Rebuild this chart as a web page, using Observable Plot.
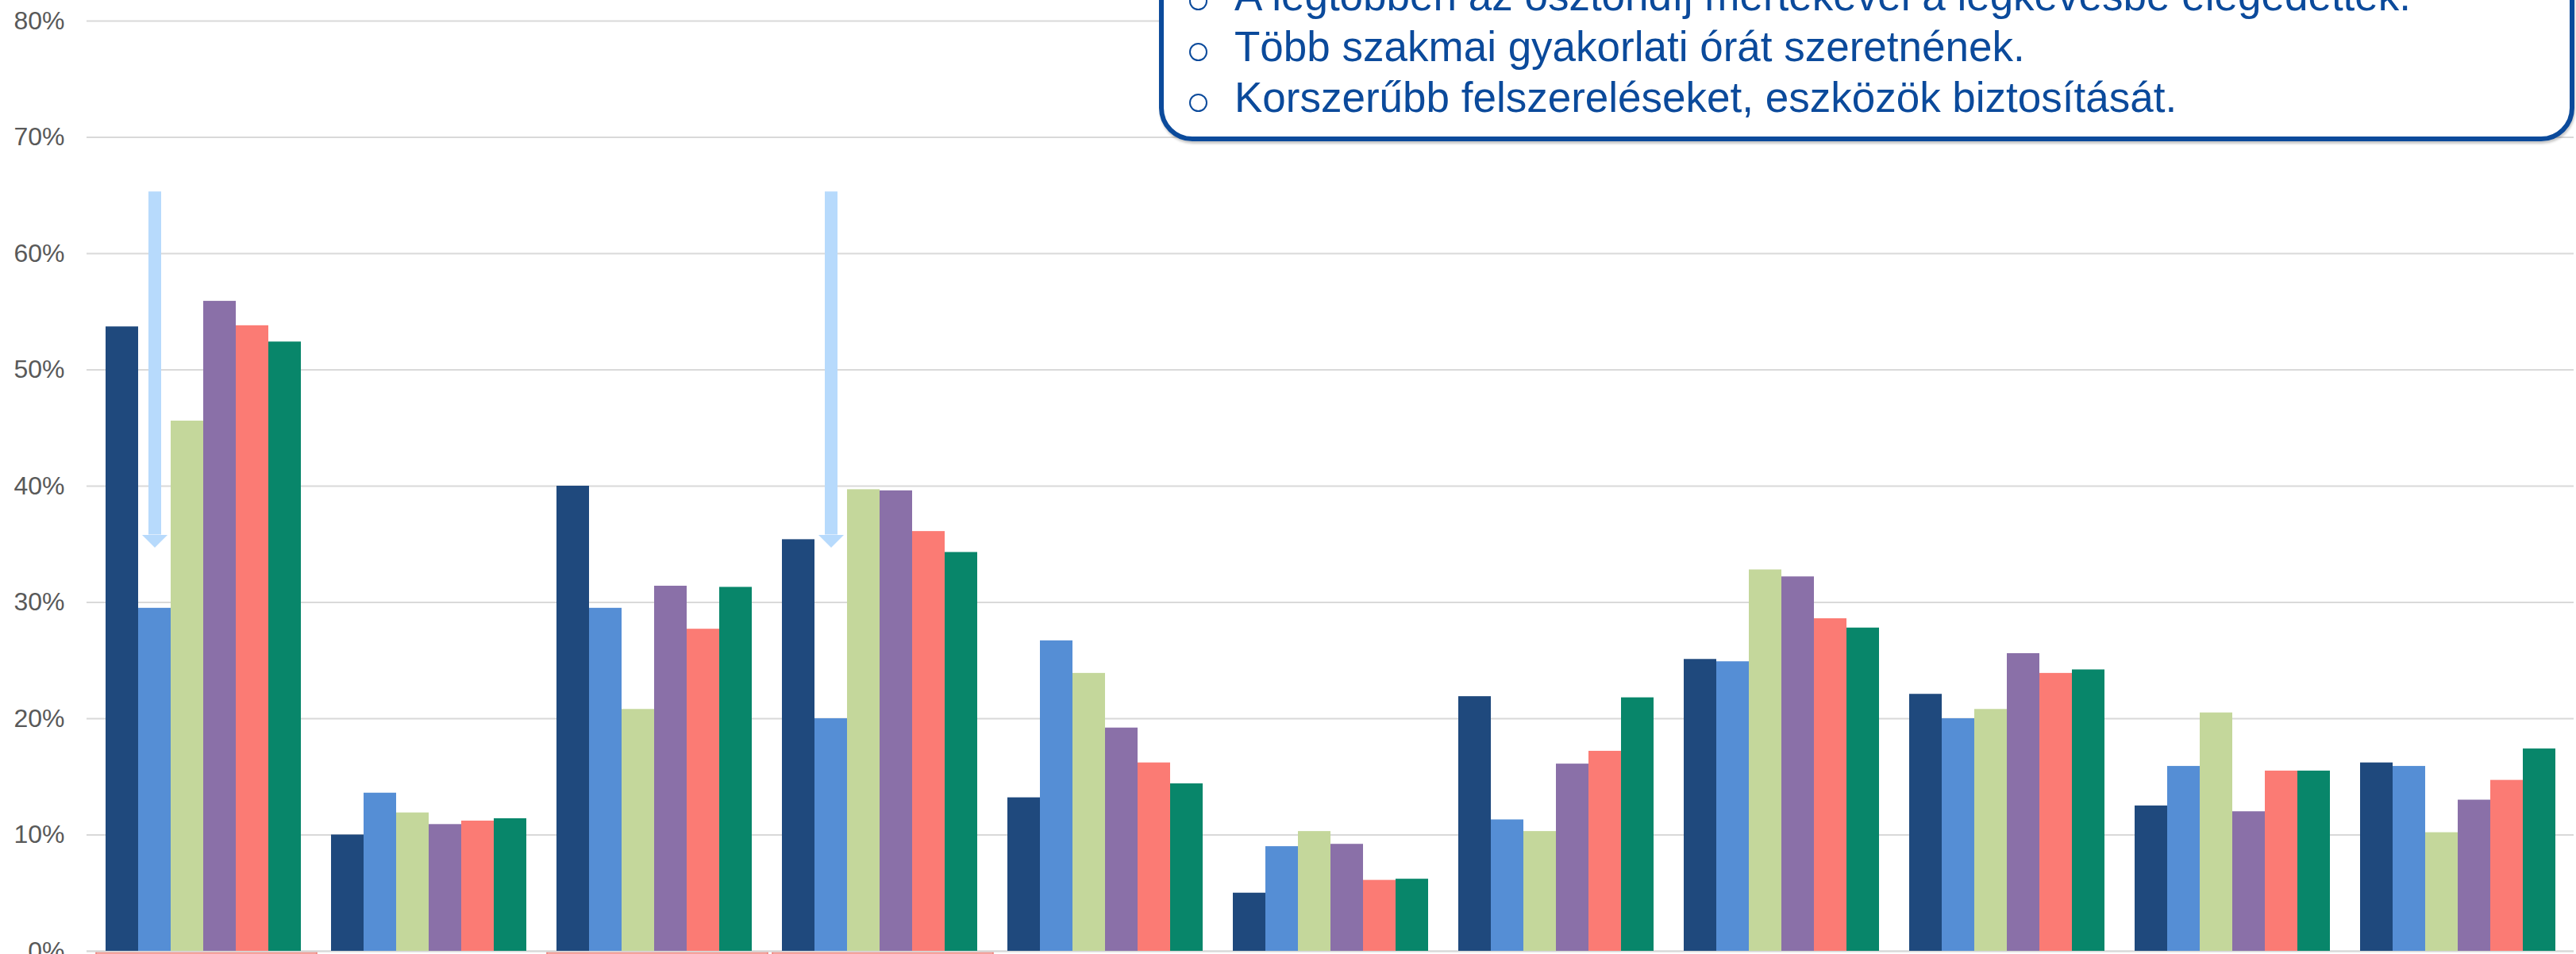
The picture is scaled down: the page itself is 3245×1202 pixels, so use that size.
<!DOCTYPE html>
<html>
<head>
<meta charset="utf-8">
<script src="https://cdn.jsdelivr.net/npm/d3@7"></script>
<script src="https://cdn.jsdelivr.net/npm/@observablehq/plot@0.6"></script>
<style>
  html, body { margin: 0; padding: 0; background: #fff; overflow: hidden; }
  #page { position: relative; width: 3245px; height: 1202px; overflow: hidden; background: #fff; }
  #page svg { position: absolute; left: 0; top: 0; max-width: none !important; }
  #callout {
    position: absolute; left: 1460px; top: -80px; width: 1783px; height: 258px;
    box-sizing: border-box; border: 6px solid #0b4a9b; border-radius: 42px;
    background: #fff; box-shadow: 1px 3px 3px rgba(0,0,0,0.22);
  }
  #lines { position: absolute; left: 1555px; top: -37.5px; }
  .line {
    position: relative; height: 64px; line-height: 64px; white-space: nowrap;
    font-family: "Liberation Sans", Arial, sans-serif; font-size: 53px; color: #0b4a9b;
  }
  .bullet {
    position: absolute; left: -57.5px; top: 27.5px; width: 23px; height: 23px;
    box-sizing: border-box; border: 2px solid #0b4a9b; border-radius: 50%;
  }
</style>
</head>
<body>
<div id="page"></div>
<script>
// ---- data ----
const categories = ["1", "2", "3", "4", "5", "6", "7", "8", "9", "10", "11"];
const series = ["Sorozat 1", "Sorozat 2", "Sorozat 3", "Sorozat 4", "Sorozat 5", "Sorozat 6"];
const colors = ["#1f497d", "#558ed5", "#c4d79b", "#8a70a8", "#fb7b74", "#08866a"];
const s1 = [0.537, 0.100, 0.400, 0.354, 0.132, 0.050, 0.219, 0.251, 0.221, 0.125, 0.162];
const s2 = [0.295, 0.136, 0.295, 0.200, 0.267, 0.090, 0.113, 0.249, 0.200, 0.159, 0.159];
const s3 = [0.456, 0.119, 0.208, 0.397, 0.239, 0.103, 0.103, 0.328, 0.208, 0.205, 0.102];
const s4 = [0.559, 0.109, 0.314, 0.396, 0.192, 0.092, 0.161, 0.322, 0.256, 0.120, 0.130];
const s5 = [0.538, 0.112, 0.277, 0.361, 0.162, 0.061, 0.172, 0.286, 0.239, 0.155, 0.147];
const s6 = [0.524, 0.114, 0.313, 0.343, 0.144, 0.062, 0.218, 0.278, 0.242, 0.155, 0.174];
const seriesValues = [s1, s2, s3, s4, s5, s6];
const yTicks = [0, 0.1, 0.2, 0.3, 0.4, 0.5, 0.6, 0.7, 0.8];
const highlighted = ["1", "3", "4"];
const arrows = [
  {cat: "1", series: "Sorozat 2", from: 0.653, to: 0.358},
  {cat: "4", series: "Sorozat 2", from: 0.653, to: 0.358}
];
const calloutLines = [
  "A legtöbben az ösztöndíj mértékével a legkevésbé elégedettek.",
  "Több szakmai gyakorlati órát szeretnének.",
  "Korszerűbb felszereléseket, eszközök biztosítását."
];

const data = [];
categories.forEach((c, i) => series.forEach((s, j) => data.push({cat: c, series: s, value: seriesValues[j][i]})));

const W = 3245, H = 1300;
const common = {
  width: W, height: H, marginTop: 26, marginBottom: 102, marginLeft: 109, marginRight: 3,
  style: {background: "transparent", fontFamily: "'Liberation Sans', Arial, sans-serif", fontSize: "32px", color: "#595959", overflow: "visible"}
};

// base: grid, y axis, highlight boxes under categories, baseline
const base = Plot.plot({
  ...common,
  x: {domain: categories, paddingInner: 0.12, paddingOuter: 0.06, axis: null},
  y: {domain: [0, 0.8], axis: null},
  marks: [
    Plot.ruleY(yTicks.filter(d => d > 0), {stroke: "#d9d9d9", strokeWidth: 2}),
    Plot.axisY(yTicks, {tickSize: 0, tickPadding: 28, tickFormat: d3.format(".0%"), fontSize: 32, fill: "#595959", label: null}),
    Plot.barY(highlighted, {x: d => d, y1: 0, y2: 0, insetTop: 1, insetBottom: -40, insetLeft: -10, insetRight: -18, fill: "#f5a29c", stroke: "#ee7c75", strokeWidth: 1.5}),
    Plot.ruleY([0], {stroke: "#d9d9d9", strokeWidth: 2.5})
  ]
});

// bars (faceted by category)
const headSymbol = {
  draw(ctx) { ctx.moveTo(-16, 0); ctx.lineTo(16, 0); ctx.lineTo(0, 16); ctx.closePath(); }
};
const bars = Plot.plot({
  ...common,
  fx: {domain: categories, paddingInner: 0.12, paddingOuter: 0.06, axis: null, label: null},
  x: {domain: series, padding: 0, axis: null},
  y: {domain: [0, 0.8], axis: null},
  color: {domain: series, range: colors},
  marks: [
    Plot.barY(data, {fx: "cat", x: "series", y1: 0, y2: "value", fill: "series"}),
    Plot.ruleX(arrows, {fx: "cat", x: "series", y1: "from", y2: "to", stroke: "#b7dafc", strokeWidth: 16}),
    Plot.dot(arrows, {fx: "cat", x: "series", y: "to", symbol: headSymbol, fill: "#b7dafc", stroke: "none", r: 16})
  ]
});

const page = document.getElementById("page");
page.appendChild(base);
page.appendChild(bars);

const box = document.createElement("div");
box.id = "callout";
page.appendChild(box);
const lines = document.createElement("div");
lines.id = "lines";
calloutLines.forEach(t => {
  const l = document.createElement("div");
  l.className = "line";
  const b = document.createElement("span");
  b.className = "bullet";
  l.appendChild(b);
  l.appendChild(document.createTextNode(t));
  lines.appendChild(l);
});
page.appendChild(lines);
</script>
</body>
</html>
